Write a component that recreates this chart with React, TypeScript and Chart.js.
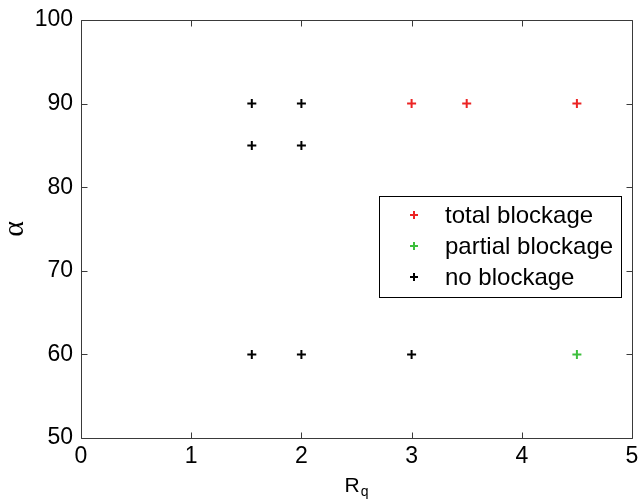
import React, { useEffect, useRef } from 'react';
import { Chart, registerables } from 'chart.js';

Chart.register(...registerables);

// ---- Data ----
const xTicks = [0, 1, 2, 3, 4, 5];
const yTicks = [50, 60, 70, 80, 90, 100];
const seriesNames = ['total blockage', 'partial blockage', 'no blockage'];
const seriesColors = ['#ec2424', '#3cbf3c', '#000000'];
const totalX = [3, 3.5, 4.5];
const totalY = [90, 90, 90];
const partialX = [4.5];
const partialY = [60];
const noneX = [1.55, 2, 1.55, 2, 1.55, 2, 3];
const noneY = [90, 90, 85, 85, 60, 60, 60];
const xTitleMain = 'R';
const xTitleSub = 'q';
const yTitle = 'α';

const FONT = '"Liberation Sans", Arial, Helvetica, sans-serif';

const toPoints = (xs: number[], ys: number[]) => xs.map((x, i) => ({ x, y: ys[i] }));

const framePlugin = {
  id: 'frame',
  afterDatasetsDraw(chart: any) {
    const { ctx, chartArea: a, scales } = chart;
    ctx.save();
    ctx.strokeStyle = '#3a3a3a';
    ctx.lineWidth = 1;
    const L = Math.round(a.left) + 0.5;
    const R = Math.round(a.right) + 0.5;
    const T = Math.round(a.top) + 0.5;
    const B = Math.round(a.bottom) + 0.5;
    ctx.beginPath();
    ctx.rect(L, T, R - L, B - T);
    ctx.stroke();
    const len = 6;
    ctx.beginPath();
    xTicks.forEach((v) => {
      const px = Math.round(scales.x.getPixelForValue(v)) + 0.5;
      ctx.moveTo(px, B);
      ctx.lineTo(px, B - len);
      ctx.moveTo(px, T);
      ctx.lineTo(px, T + len);
    });
    yTicks.forEach((v) => {
      const py = Math.round(scales.y.getPixelForValue(v)) + 0.5;
      ctx.moveTo(L, py);
      ctx.lineTo(L + len, py);
      ctx.moveTo(R, py);
      ctx.lineTo(R - len, py);
    });
    ctx.stroke();

    // axis titles
    ctx.fillStyle = '#000';
    ctx.textBaseline = 'alphabetic';
    ctx.textAlign = 'left';
    ctx.font = `21px ${FONT}`;
    const cx = (a.left + a.right) / 2;
    const rw = ctx.measureText(xTitleMain).width;
    ctx.font = `14px ${FONT}`;
    const qw = ctx.measureText(xTitleSub).width;
    const startX = cx - (rw + qw + 1) / 2;
    ctx.font = `21px ${FONT}`;
    ctx.fillText(xTitleMain, startX, 492);
    ctx.font = `14px ${FONT}`;
    ctx.fillText(xTitleSub, startX + rw + 1, 496);

    ctx.save();
    ctx.translate(15.5, (a.top + a.bottom) / 2);
    ctx.rotate(-Math.PI / 2);
    ctx.font = `30px "Liberation Serif", "DejaVu Serif", serif`;
    ctx.textAlign = 'center';
    ctx.textBaseline = 'middle';
    ctx.fillText(yTitle, 0, 0);
    ctx.restore();
    ctx.restore();
  },
};

const legendPlugin = {
  id: 'boxLegend',
  afterDraw(chart: any) {
    const { ctx } = chart;
    const bx = 379.5, by = 196.5, bw = 242, bh = 101;
    ctx.save();
    ctx.fillStyle = '#ffffff';
    ctx.fillRect(bx, by, bw, bh);
    ctx.strokeStyle = '#000';
    ctx.lineWidth = 1;
    ctx.strokeRect(bx, by, bw, bh);
    ctx.font = `24px ${FONT}`;
    ctx.textBaseline = 'middle';
    ctx.textAlign = 'left';
    chart.data.datasets.forEach((ds: any, i: number) => {
      const y = 215 + i * 31;
      const mx = 414;
      ctx.strokeStyle = ds.borderColor;
      ctx.lineWidth = 2;
      ctx.beginPath();
      ctx.moveTo(mx - 4, y);
      ctx.lineTo(mx + 4, y);
      ctx.moveTo(mx, y - 4);
      ctx.lineTo(mx, y + 4);
      ctx.stroke();
      ctx.fillStyle = '#000';
      ctx.fillText(ds.label, 445, y + 1);
    });
    ctx.restore();
  },
};

export default function App() {
  const ref = useRef<HTMLCanvasElement | null>(null);
  useEffect(() => {
    if (!ref.current) return;
    const mk = (i: number, xs: number[], ys: number[]) => ({
      label: seriesNames[i],
      data: toPoints(xs, ys),
      borderColor: seriesColors[i],
      backgroundColor: seriesColors[i],
      pointStyle: 'cross',
      pointRadius: 4.5,
      pointBorderWidth: 2,
      showLine: false,
    });
    const chart = new Chart(ref.current, {
      type: 'scatter',
      data: {
        datasets: [mk(0, totalX, totalY), mk(1, partialX, partialY), mk(2, noneX, noneY)],
      },
      options: {
        responsive: false,
        animation: false,
        devicePixelRatio: 1,
        layout: { padding: { top: 20, right: 7, left: 0, bottom: 0 } },
        plugins: { legend: { display: false }, tooltip: { enabled: false } },
        scales: {
          x: {
            type: 'linear',
            min: 0,
            max: 5,
            afterBuildTicks: (s: any) => { s.ticks = xTicks.map((v) => ({ value: v })); },
            afterFit: (s: any) => { s.height = 63; s.paddingLeft = 0; s.paddingRight = 0; },
            grid: { display: false, drawTicks: false },
            border: { display: false },
            ticks: { font: { family: FONT, size: 23 }, color: '#000', padding: 5, maxRotation: 0 },
          },
          y: {
            type: 'linear',
            min: 50,
            max: 100,
            afterBuildTicks: (s: any) => { s.ticks = yTicks.map((v) => ({ value: v })); },
            afterFit: (s: any) => { s.width = 81; s.paddingTop = 0; s.paddingBottom = 0; },
            grid: { display: false, drawTicks: false },
            border: { display: false },
            ticks: { font: { family: FONT, size: 23 }, color: '#000', padding: 8 },
          },
        },
      },
      plugins: [framePlugin, legendPlugin],
    } as any);
    return () => chart.destroy();
  }, []);
  return (
    <div style={{ position: 'fixed', left: 0, top: 0, width: 639, height: 501, background: '#fff' }}>
      <canvas ref={ref} width={639} height={501} />
    </div>
  );
}
